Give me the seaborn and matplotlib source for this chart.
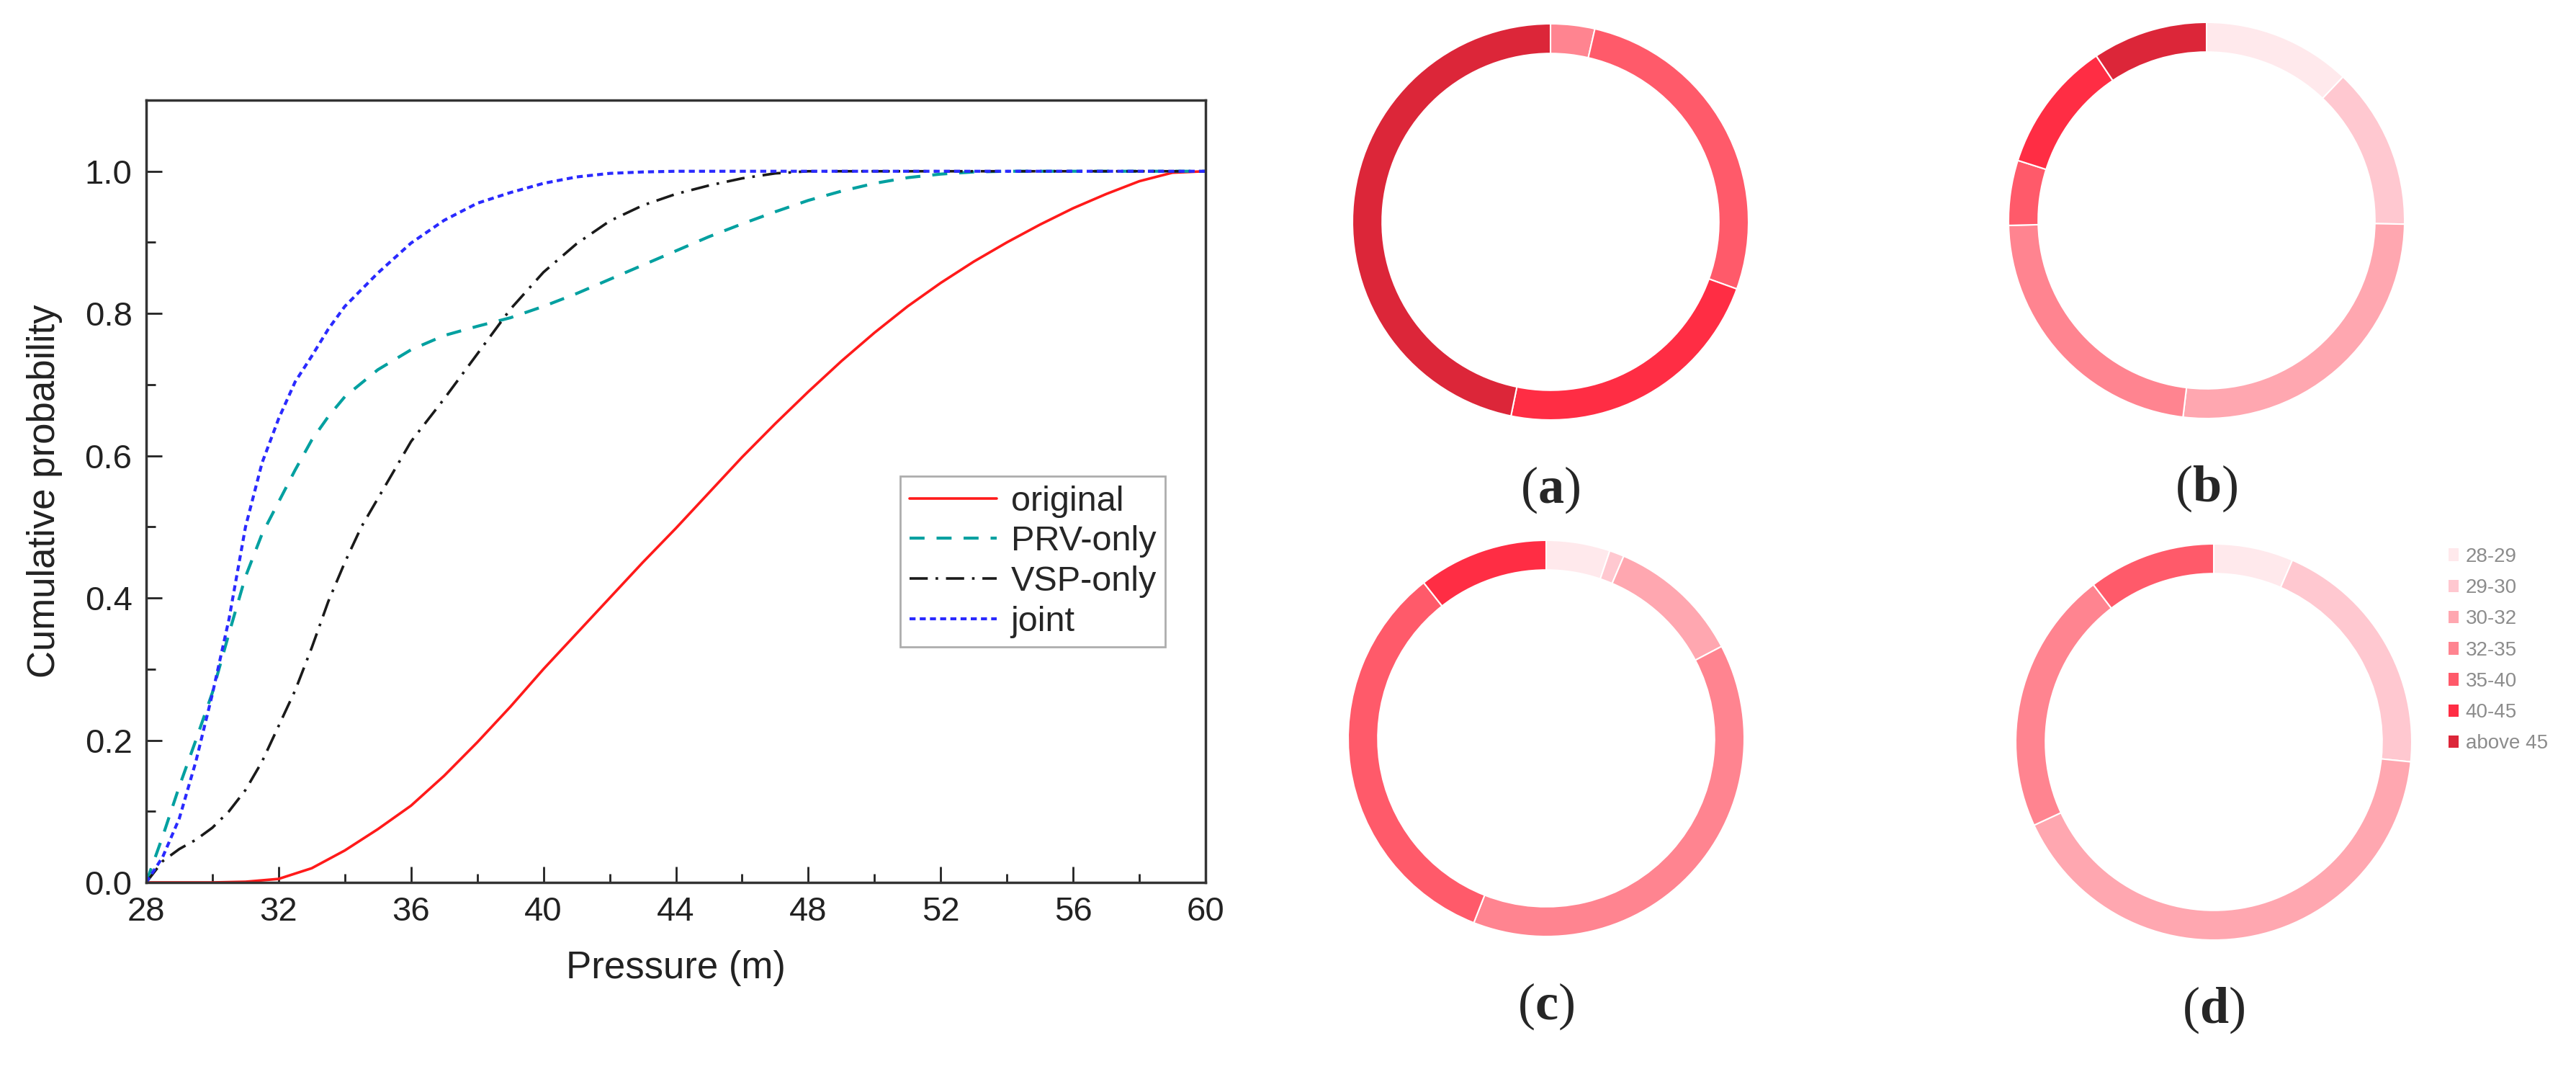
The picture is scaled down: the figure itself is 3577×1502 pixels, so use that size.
import numpy as np
import matplotlib
matplotlib.use("Agg")
import matplotlib.pyplot as plt
import matplotlib.ticker as mticker
from matplotlib.patches import Patch
import pandas as pd
import seaborn as sns

# cumulative probability curves
x_original = [28, 30, 31, 32, 33, 34, 35, 36, 37, 38, 39, 40, 41, 42, 43, 44, 45, 46, 47, 48,
              49, 50, 51, 52, 53, 54, 55, 56, 57, 58, 59, 60]
y_original = [0, 0, 0.001, 0.005, 0.02, 0.045, 0.075, 0.108, 0.15, 0.197, 0.247, 0.3, 0.35, 0.4,
              0.45, 0.498, 0.548, 0.598, 0.645, 0.69, 0.733, 0.773, 0.81, 0.843, 0.873, 0.9,
              0.925, 0.948, 0.968, 0.986, 0.998, 1.0]

x_prv = [28, 28.5, 29, 29.5, 30, 30.5, 31, 31.5, 32, 32.5, 33, 33.5, 34, 35, 36, 37, 38, 39, 40,
         41, 42, 43, 44, 45, 46, 47, 48, 49, 50, 51, 52, 53, 54, 60]
y_prv = [0, 0.065, 0.135, 0.2, 0.267, 0.35, 0.43, 0.49, 0.535, 0.58, 0.622, 0.655, 0.683, 0.721,
         0.749, 0.769, 0.782, 0.794, 0.81, 0.828, 0.848, 0.868, 0.888, 0.908, 0.926, 0.943,
         0.959, 0.972, 0.983, 0.991, 0.996, 0.999, 1.0, 1.0]

x_vsp = [28, 28.5, 29, 29.5, 30, 30.5, 31, 31.5, 32, 32.5, 33, 33.5, 34, 34.5, 35, 36, 37, 38,
         39, 40, 41, 42, 43, 44, 45, 46, 47, 48, 60]
y_vsp = [0, 0.03, 0.047, 0.06, 0.077, 0.1, 0.13, 0.17, 0.22, 0.27, 0.33, 0.395, 0.45, 0.5, 0.54,
         0.62, 0.68, 0.743, 0.806, 0.858, 0.898, 0.93, 0.952, 0.968, 0.98, 0.99, 0.997, 1.0, 1.0]

x_joint = [28, 28.5, 29, 29.5, 30, 30.5, 31, 31.5, 32, 32.5, 33, 33.5, 34, 35, 36, 37, 38, 39,
           40, 41, 42, 43, 44, 60]
y_joint = [0, 0.036, 0.09, 0.17, 0.265, 0.37, 0.5, 0.59, 0.652, 0.704, 0.74, 0.778, 0.81, 0.857,
           0.899, 0.931, 0.955, 0.97, 0.983, 0.992, 0.997, 0.999, 1.0, 1.0]

# pressure ranges (%) for the four rings
ranges = ["28-29", "29-30", "30-32", "32-35", "35-40", "40-45", "above 45"]
ring_colors = ["#ffe9ec", "#ffc8d0", "#ffa7b0", "#ff8490", "#ff5a6a", "#ff2d44", "#dc2639"]
share_a = [0, 0, 0, 3.6, 26.9, 22.7, 46.8]
share_b = [12.1, 13.2, 26.6, 22.7, 5.3, 10.7, 9.4]
share_c = [5.2, 1.2, 10.9, 38.6, 33.4, 10.6, 0]
share_d = [6.5, 20.1, 41.5, 21.5, 10.4, 0, 0]
panel_tags = ["a", "b", "c", "d"]

sns.set_style("white")
plt.rcParams["font.family"] = ["Liberation Sans", "DejaVu Sans"]
plt.rcParams["mathtext.fontset"] = "custom"
plt.rcParams["mathtext.rm"] = "Liberation Serif"
plt.rcParams["mathtext.bf"] = "Liberation Serif:bold"

W, H = 3577, 1502
fig = plt.figure(figsize=(W / 100, H / 100), dpi=100)

# ---- left: CDF curves ----
ax = fig.add_axes([203 / W, 1 - 1225 / H, 1471 / W, 1086 / H])

series = [
    ("original", x_original, y_original, "#ff1a1a", 2.6, None),
    ("PRV-only", x_prv, y_prv, "#00a0a0", 3.0, (5, 4)),
    ("VSP-only", x_vsp, y_vsp, "#1a1a1a", 2.6, (7, 3, 1, 3)),
    ("joint", x_joint, y_joint, "#2a2aff", 3.0, (2, 1.4)),
]
for name, xs, ys, col, lw, dash in series:
    df = pd.DataFrame({"p": xs, "c": ys})
    sns.lineplot(data=df, x="p", y="c", ax=ax, color=col, linewidth=lw, label=name,
                 estimator=None, sort=False)
    if dash is not None:
        ax.lines[-1].set_dashes(dash)

ax.set_xlim(28, 60)
ax.set_ylim(0, 1.1)
ax.xaxis.set_major_locator(mticker.MultipleLocator(4))
ax.xaxis.set_minor_locator(mticker.MultipleLocator(2))
ax.yaxis.set_major_locator(mticker.MultipleLocator(0.2))
ax.yaxis.set_minor_locator(mticker.MultipleLocator(0.1))
ax.yaxis.set_major_formatter(mticker.FormatStrFormatter("%.1f"))
ax.tick_params(which="both", direction="in", bottom=True, left=True, top=False, right=False,
               width=2, colors="#222222", labelsize=34, labelcolor="#222222")
ax.tick_params(which="major", length=16, pad=14)
ax.tick_params(which="minor", length=9)
for s in ax.spines.values():
    s.set_linewidth(2.5)
    s.set_color("#333333")
ax.set_xlabel("Pressure (m)", fontsize=38, labelpad=22, color="#222222")
ax.set_ylabel("Cumulative probability", fontsize=38, labelpad=22, color="#222222")

leg = ax.legend(loc="upper right", bbox_to_anchor=(0.962, 0.519), fontsize=35, frameon=True,
                fancybox=False, edgecolor="#999999", handlelength=2.5, handletextpad=0.4,
                labelspacing=0.22, borderpad=0.25, borderaxespad=0)
leg.get_frame().set_linewidth(2)

# ---- right: ring charts ----
centers = [(2153, 308), (3064, 306), (2147, 1025), (3074, 1030)]
shares = [share_a, share_b, share_c, share_d]
r_px = 275
for (cx, cy), share, tag in zip(centers, shares, panel_tags):
    pax = fig.add_axes([(cx - r_px) / W, 1 - (cy + r_px) / H, 2 * r_px / W, 2 * r_px / H])
    vals = [v for v in share if v > 0]
    cols = [c for v, c in zip(share, ring_colors) if v > 0]
    pax.pie(vals, colors=cols, startangle=90, counterclock=False, radius=1,
            wedgeprops=dict(width=0.15, edgecolor="white", linewidth=1.5))
    pax.set_xlim(-1, 1)
    pax.set_ylim(-1, 1)
    pax.set_aspect("equal")
    pax.axis("off")
    fig.text(cx / W, 1 - (cy + 372) / H, "($\\mathbf{" + tag + "}$)", ha="center", va="center",
             fontsize=52, family="Liberation Serif")

handles = [Patch(facecolor=c, edgecolor="none") for c in ring_colors]
fig.legend(handles, ranges, loc="upper left", bbox_to_anchor=(3400 / W, 1 - 760 / H),
           frameon=False, fontsize=20, labelcolor="#8c8c8c", handlelength=0.5,
           handleheight=0.6, handletextpad=0.35, labelspacing=0.62, borderpad=0,
           borderaxespad=0)

fig.savefig("out.png", dpi=100, facecolor="white")
